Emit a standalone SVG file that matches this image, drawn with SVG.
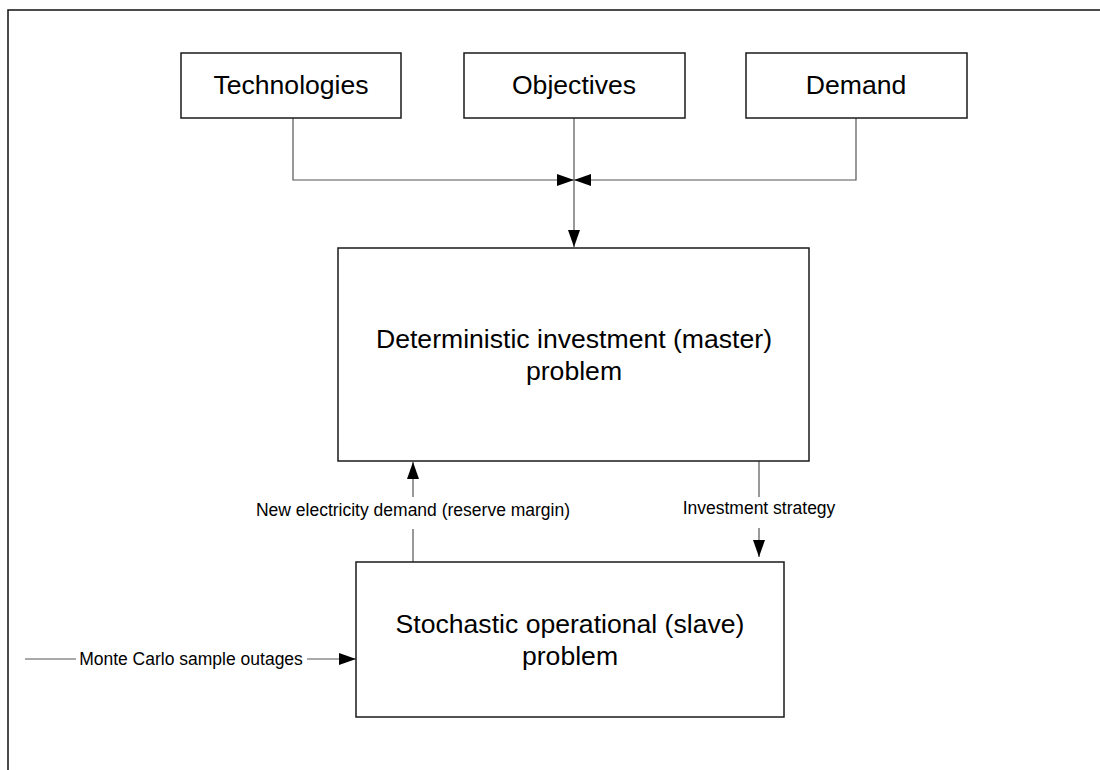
<svg xmlns="http://www.w3.org/2000/svg" width="1100" height="770" viewBox="0 0 1100 770">
<style>
.box{fill:#fff;stroke:#1a1a1a;stroke-width:1.5}
.big{font-family:"Liberation Sans",Arial,sans-serif;font-size:26.6px;fill:#000;text-anchor:middle}
.lbl{font-family:"Liberation Sans",Arial,sans-serif;font-size:17.5px;fill:#000;text-anchor:middle}
.con{fill:none;stroke:#555;stroke-width:1.2}
.frame{fill:none;stroke:#111;stroke-width:1.5}
</style>
<defs>
<marker id="arr" markerUnits="userSpaceOnUse" markerWidth="17" markerHeight="12" refX="17" refY="6" orient="auto" viewBox="0 0 17 12">
<path d="M0,0 L17,6 L0,12 z" fill="#000"/>
</marker>
</defs>
<rect width="1100" height="770" fill="#fff"/>
<path class="frame" d="M8,772 V10 H1102"/>
<g id="connectors">
<path class="con" d="M293,118 V180 H574" marker-end="url(#arr)"/>
<path class="con" d="M856,118 V180 H574" marker-end="url(#arr)"/>
<path class="con" d="M574,118 V247" marker-end="url(#arr)"/>
<path class="con" d="M413,562 V529"/>
<path class="con" d="M413,497 V462" marker-end="url(#arr)"/>
<path class="con" d="M759,461 V497"/>
<path class="con" d="M759,528 V557" marker-end="url(#arr)"/>
<path class="con" d="M25,659 H76"/>
<path class="con" d="M307,659 H356" marker-end="url(#arr)"/>
<text class="lbl" x="413" y="516">New electricity demand (reserve margin)</text>
<text class="lbl" x="759" y="514">Investment strategy</text>
<text class="lbl" x="191" y="665">Monte Carlo sample outages</text>
</g>
<g id="technologies">
<rect class="box" x="181" y="53" width="220" height="65"/>
<text class="big" x="291" y="94">Technologies</text>
</g>
<g id="objectives">
<rect class="box" x="464" y="53" width="221" height="65"/>
<text class="big" x="574" y="94">Objectives</text>
</g>
<g id="demand">
<rect class="box" x="746" y="53" width="221" height="65"/>
<text class="big" x="856" y="94">Demand</text>
</g>
<g id="master">
<rect class="box" x="338" y="248" width="471" height="213"/>
<text class="big" x="574" y="348">Deterministic investment (master)</text>
<text class="big" x="574" y="380">problem</text>
</g>
<g id="slave">
<rect class="box" x="356" y="562" width="428" height="155"/>
<text class="big" x="570" y="633">Stochastic operational (slave)</text>
<text class="big" x="570" y="665">problem</text>
</g>
</svg>
